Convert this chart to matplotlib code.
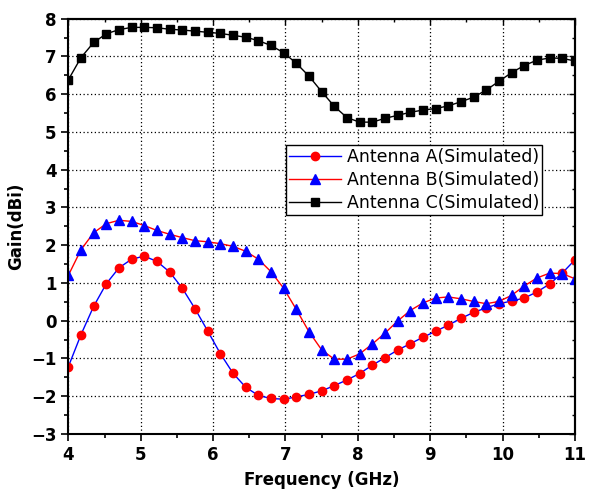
import numpy as np
import matplotlib.pyplot as plt
from matplotlib.ticker import MultipleLocator

# Frequency sweep, 41 points from 4 to 11 GHz
freq = np.linspace(4, 11, 41)

gain_a = [-1.22, -0.37, 0.38, 0.98, 1.40, 1.63, 1.71, 1.57, 1.29, 0.86,
          0.32, -0.27, -0.87, -1.39, -1.76, -1.98, -2.06, -2.08, -2.02, -1.95,
          -1.86, -1.72, -1.57, -1.40, -1.18, -0.98, -0.78, -0.61, -0.44, -0.28,
          -0.12, 0.06, 0.22, 0.34, 0.45, 0.52, 0.60, 0.76, 0.97, 1.26, 1.61]

gain_b = [1.20, 1.88, 2.33, 2.57, 2.66, 2.63, 2.52, 2.39, 2.29, 2.20,
          2.12, 2.09, 2.04, 1.97, 1.84, 1.63, 1.30, 0.86, 0.30, -0.29,
          -0.77, -1.02, -1.02, -0.88, -0.62, -0.33, -0.01, 0.27, 0.47, 0.60,
          0.63, 0.58, 0.51, 0.45, 0.51, 0.67, 0.92, 1.13, 1.26, 1.25, 1.11]

gain_c = [6.38, 6.97, 7.37, 7.60, 7.71, 7.77, 7.77, 7.76, 7.72, 7.70,
          7.67, 7.64, 7.61, 7.56, 7.51, 7.42, 7.29, 7.10, 6.82, 6.48,
          6.07, 5.68, 5.38, 5.26, 5.26, 5.36, 5.44, 5.52, 5.58, 5.62,
          5.69, 5.80, 5.92, 6.11, 6.34, 6.57, 6.76, 6.90, 6.96, 6.95, 6.88]

fig, ax = plt.subplots(figsize=(5.89, 4.92), dpi=100)
fig.subplots_adjust(left=0.116, right=0.976, top=0.962, bottom=0.118)

ax.plot(freq, gain_a, color='blue', lw=1, marker='o', ms=6,
        mfc='red', mec='red', label='Antenna A(Simulated)')
ax.plot(freq, gain_b, color='red', lw=1, marker='^', ms=7,
        mfc='blue', mec='blue', label='Antenna B(Simulated)')
ax.plot(freq, gain_c, color='black', lw=1, marker='s', ms=5.2,
        mfc='black', mec='black', label='Antenna C(Simulated)')

ax.set_xlim(4, 11)
ax.set_ylim(-3, 8)
ax.xaxis.set_major_locator(MultipleLocator(1))
ax.xaxis.set_minor_locator(MultipleLocator(0.5))
ax.yaxis.set_major_locator(MultipleLocator(1))
ax.yaxis.set_minor_locator(MultipleLocator(0.5))
ax.grid(True, which='major', color='black', linestyle=(0, (1, 2)),
        linewidth=0.9)

ax.tick_params(which='major', direction='out', length=5, width=1.2,
               labelsize=12)
ax.tick_params(which='minor', direction='out', length=3, width=1.2)
for lab in ax.get_xticklabels() + ax.get_yticklabels():
    lab.set_fontweight('bold')

# inward ticks mirrored on top and right
top = ax.secondary_xaxis('top')
top.xaxis.set_major_locator(MultipleLocator(1))
top.xaxis.set_minor_locator(MultipleLocator(0.5))
top.tick_params(which='both', direction='in', labeltop=False, width=1)
top.tick_params(which='major', length=4)
top.tick_params(which='minor', length=2.5)
right = ax.secondary_yaxis('right')
right.yaxis.set_major_locator(MultipleLocator(1))
right.yaxis.set_minor_locator(MultipleLocator(0.5))
right.tick_params(which='both', direction='in', labelright=False, width=1)
right.tick_params(which='major', length=4)
right.tick_params(which='minor', length=2.5)

for s in list(ax.spines.values()) + [top.spines['top'], right.spines['right']]:
    s.set_linewidth(1.5)

ax.set_xlabel('Frequency (GHz)', fontsize=12, fontweight='bold', labelpad=5)
ax.set_ylabel('Gain(dBi)', fontsize=12, fontweight='bold', labelpad=4)

leg = ax.legend(loc='upper right', bbox_to_anchor=(0.936, 0.697),
                fontsize=12.5, handlelength=3, handletextpad=0.3,
                borderpad=0.2, labelspacing=0.28, fancybox=False,
                framealpha=1, edgecolor='black', borderaxespad=0)
leg.get_frame().set_linewidth(1)

fig.savefig('out.png', dpi=100)
